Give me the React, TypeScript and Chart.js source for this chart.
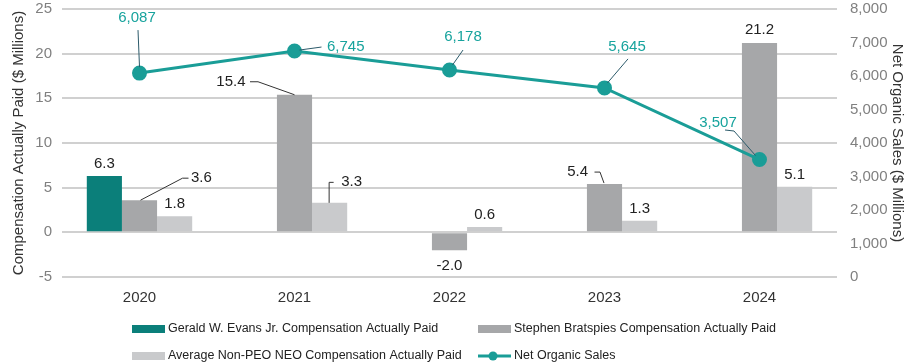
import React, { useEffect, useRef } from "react";
import { Chart, registerables } from "chart.js";

Chart.register(...registerables);

// ---------- data ----------
const years = ["2020", "2021", "2022", "2023", "2024"];
const geraldCAP: (number | null)[] = [6.3, null, null, null, null];
const stephenCAP: (number | null)[] = [3.6, 15.4, -2.0, 5.4, 21.2];
const avgNonPeoCAP: (number | null)[] = [1.8, 3.3, 0.6, 1.3, 5.1];
const netOrganicSales: number[] = [6087, 6745, 6178, 5645, 3507];
const leftTicks = [-5, 0, 5, 10, 15, 20, 25];
const rightTicks = [0, 1000, 2000, 3000, 4000, 5000, 6000, 7000, 8000];

const seriesNames = [
  "Gerald W. Evans Jr. Compensation Actually Paid",
  "Stephen Bratspies Compensation Actually Paid",
  "Average Non-PEO NEO Compensation Actually Paid",
  "Net Organic Sales",
];

// ---------- styles ----------
const FONT = "'Liberation Sans', Arial, Helvetica, sans-serif";
const C_GERALD = "#0b7f7a";
const C_STEPHEN = "#a6a7a9";
const C_AVG = "#c9cacc";
const C_LINE = "#1a9d97";
const C_LINE_TEXT = "#17a39d";
const C_TEXT = "#222222";

type Spec = {
  ds: number;
  i: number;
  dx: number;
  dy: number;
  align: CanvasTextAlign;
  leader?: [number, number][];
};

// label placement relative to each element's anchor (bar top / point centre)
const labelSpecs: Spec[] = [
  { ds: 0, i: 0, dx: 0, dy: -12, align: "center" },
  { ds: 1, i: 0, dx: 51.5, dy: -22, align: "left", leader: [[1, 0], [43, -22], [49, -22]] },
  { ds: 2, i: 0, dx: 0, dy: -12, align: "center" },
  { ds: 1, i: 1, dx: -49, dy: -13, align: "right", leader: [[-44.5, -13], [-36.5, -13], [0, 0]] },
  { ds: 2, i: 1, dx: 11.5, dy: -20.5, align: "left", leader: [[-0.5, 0], [-0.5, -20.5], [4, -20.5]] },
  { ds: 1, i: 2, dx: 0, dy: 16, align: "center" },
  { ds: 2, i: 2, dx: 0, dy: -12.5, align: "center" },
  { ds: 1, i: 3, dx: -16.5, dy: -12, align: "right", leader: [[-10, -12], [-4.5, -12], [-0.5, -1]] },
  { ds: 2, i: 3, dx: 0, dy: -11.5, align: "center" },
  { ds: 1, i: 4, dx: 0, dy: -13.5, align: "center" },
  { ds: 2, i: 4, dx: 0, dy: -11.5, align: "center" },
  { ds: 3, i: 0, dx: -2.5, dy: -55, align: "center", leader: [[-1.5, -43], [0, -6]] },
  { ds: 3, i: 1, dx: 32.5, dy: -4, align: "left", leader: [[5, -1], [27, -4]] },
  { ds: 3, i: 2, dx: 13.5, dy: -33, align: "center", leader: [[13.5, -20], [3, -5]] },
  { ds: 3, i: 3, dx: 22.5, dy: -41, align: "center", leader: [[23.5, -29], [3, -5]] },
  { ds: 3, i: 4, dx: -41.5, dy: -36.5, align: "center", leader: [[-34.5, -29.5], [-25.5, -28.5], [-4, -4]] },
];

const labelsPlugin = {
  id: "customLabels",
  afterDatasetsDraw(chart: any) {
    const ctx = chart.ctx;
    ctx.save();
    ctx.font = `15px ${FONT}`;
    ctx.textBaseline = "middle";
    for (const s of labelSpecs) {
      const el = chart.getDatasetMeta(s.ds).data[s.i];
      if (!el) continue;
      const raw = chart.data.datasets[s.ds].data[s.i];
      if (raw == null) continue;
      const isLine = s.ds === 3;
      const txt = isLine ? Number(raw).toLocaleString("en-US") : Number(raw).toFixed(1);
      const x = el.x;
      const y = el.y;
      if (s.leader) {
        ctx.beginPath();
        ctx.lineWidth = 1;
        ctx.strokeStyle = isLine ? "#2c5a6a" : "#333333";
        s.leader.forEach((p, k) => {
          if (k === 0) ctx.moveTo(x + p[0], y + p[1]);
          else ctx.lineTo(x + p[0], y + p[1]);
        });
        ctx.stroke();
      }
      ctx.fillStyle = isLine ? C_LINE_TEXT : C_TEXT;
      ctx.textAlign = s.align;
      ctx.fillText(txt, x + s.dx, y + s.dy);
    }
    ctx.restore();
  },
};

const legendPlugin = {
  id: "customLegend",
  afterDraw(chart: any) {
    const ctx = chart.ctx;
    ctx.save();
    ctx.font = `12.5px ${FONT}`;
    ctx.textBaseline = "middle";
    ctx.textAlign = "left";
    const col1 = 132;
    const col2 = 478;
    const row1 = 329;
    const row2 = 356;
    const items = [
      { x: col1, y: row1, color: C_GERALD, type: "box", name: seriesNames[0] },
      { x: col2, y: row1, color: C_STEPHEN, type: "box", name: seriesNames[1] },
      { x: col1, y: row2, color: C_AVG, type: "box", name: seriesNames[2] },
      { x: col2, y: row2, color: C_LINE, type: "line", name: seriesNames[3] },
    ];
    for (const it of items) {
      if (it.type === "box") {
        ctx.fillStyle = it.color;
        ctx.fillRect(it.x, it.y - 4, 33, 8);
      } else {
        ctx.strokeStyle = it.color;
        ctx.lineWidth = 3;
        ctx.beginPath();
        ctx.moveTo(it.x, it.y);
        ctx.lineTo(it.x + 33, it.y);
        ctx.stroke();
        ctx.fillStyle = it.color;
        ctx.beginPath();
        ctx.arc(it.x + 15, it.y, 4.5, 0, Math.PI * 2);
        ctx.fill();
      }
      ctx.fillStyle = C_TEXT;
      ctx.fillText(it.name, it.x + 36, it.y);
    }
    ctx.restore();
  },
};

export default function App() {
  const ref = useRef<HTMLCanvasElement | null>(null);

  useEffect(() => {
    if (!ref.current) return;
    const chart = new Chart(ref.current, {
      type: "bar",
      data: {
        labels: years,
        datasets: [
          {
            type: "bar",
            label: seriesNames[0],
            data: geraldCAP as any,
            backgroundColor: C_GERALD,
            yAxisID: "y",
            order: 1,
            barPercentage: 1,
            categoryPercentage: 0.68,
          },
          {
            type: "bar",
            label: seriesNames[1],
            data: stephenCAP as any,
            backgroundColor: C_STEPHEN,
            yAxisID: "y",
            order: 1,
            barPercentage: 1,
            categoryPercentage: 0.68,
          },
          {
            type: "bar",
            label: seriesNames[2],
            data: avgNonPeoCAP as any,
            backgroundColor: C_AVG,
            yAxisID: "y",
            order: 1,
            barPercentage: 1,
            categoryPercentage: 0.68,
          },
          {
            type: "line",
            label: seriesNames[3],
            data: netOrganicSales,
            borderColor: C_LINE,
            backgroundColor: C_LINE,
            borderWidth: 3,
            pointRadius: 6,
            pointBackgroundColor: C_LINE,
            pointBorderColor: C_LINE,
            yAxisID: "y1",
            order: 0,
            tension: 0,
          } as any,
        ],
      },
      options: {
        responsive: false,
        animation: false,
        devicePixelRatio: 1,
        layout: { padding: { top: 9, left: 0, right: 0, bottom: 0 } },
        plugins: {
          legend: { display: false },
          tooltip: { enabled: false },
        },
        scales: {
          x: {
            grid: { display: false, drawTicks: false },
            border: { display: false },
            ticks: { color: "#333333", font: { size: 15, family: FONT }, padding: 12 },
            afterFit: (s: any) => {
              s.height = 86;
              s.paddingLeft = 0;
              s.paddingRight = 0;
            },
          },
          y: {
            position: "left",
            min: -5,
            max: 25,
            afterBuildTicks: (s: any) => {
              s.ticks = leftTicks.map((v) => ({ value: v }));
            },
            ticks: { color: "#808080", font: { size: 15, family: FONT }, padding: 10 },
            grid: { color: "#d0d0d0", lineWidth: 2, drawTicks: false },
            border: { display: false },
            title: {
              display: true,
              text: "Compensation Actually Paid ($ Millions)",
              color: "#333333",
              font: { size: 15, family: FONT },
              padding: { top: 10, bottom: 0 },
            },
            afterFit: (s: any) => {
              s.width = 62;
              s.paddingTop = 0;
              s.paddingBottom = 0;
            },
          },
          y1: {
            position: "right",
            min: 0,
            max: 8000,
            afterBuildTicks: (s: any) => {
              s.ticks = rightTicks.map((v) => ({ value: v }));
            },
            ticks: {
              color: "#808080",
              font: { size: 15, family: FONT },
              padding: 13,
              callback: (v: any) => Number(v).toLocaleString("en-US"),
            },
            grid: { display: false, drawTicks: false },
            border: { display: false },
            title: {
              display: true,
              text: "Net Organic Sales ($ Millions)",
              color: "#333333",
              font: { size: 15, family: FONT },
              padding: { top: 2, bottom: 0 },
            },
            afterFit: (s: any) => {
              s.width = 71;
              s.paddingTop = 0;
              s.paddingBottom = 0;
            },
          },
        },
      } as any,
      plugins: [labelsPlugin, legendPlugin],
    });
    return () => chart.destroy();
  }, []);

  return (
    <div style={{ position: "fixed", left: 0, top: 0, width: 908, height: 363, background: "#ffffff" }}>
      <canvas ref={ref} width={908} height={363} />
    </div>
  );
}
